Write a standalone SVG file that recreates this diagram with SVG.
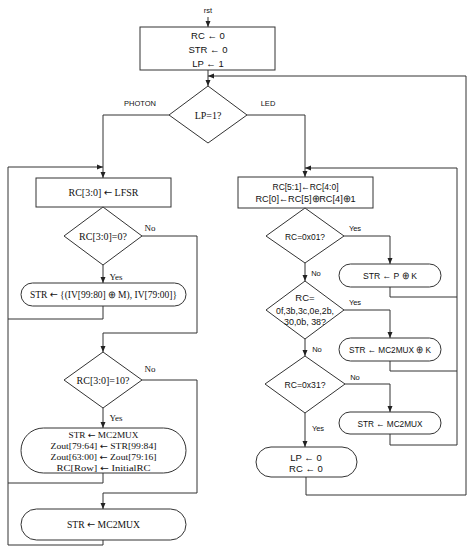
<svg xmlns="http://www.w3.org/2000/svg" width="471" height="550" viewBox="0 0 471 550">
<style>
.shape{fill:#fff;stroke:#333;stroke-width:1}
.wire{fill:none;stroke:#333;stroke-width:1}
.sans{font-family:"Liberation Sans",Arial,sans-serif;font-size:9.5px;fill:#111;text-anchor:middle}
.serif{font-family:"Liberation Serif","Times New Roman",serif;font-size:10px;fill:#111;text-anchor:middle}
.tight{font-size:9px}
.lbls{font-family:"Liberation Sans",Arial,sans-serif;font-size:7.5px;fill:#111;text-anchor:middle}
.lblr{font-family:"Liberation Serif","Times New Roman",serif;font-size:9px;fill:#111;text-anchor:middle}
.a{font-family:"DejaVu Sans",sans-serif}
</style>
<defs>
<marker id="arr" markerWidth="6" markerHeight="6" refX="6" refY="3" orient="auto" markerUnits="userSpaceOnUse">
<path d="M0,0.5 L6,3 L0,5.5 z" fill="#222"/>
</marker>
</defs>
<rect width="471" height="550" fill="#fff"/>

<g id="connectors" class="wire">
<path d="M208,17 V27" marker-end="url(#arr)"/>
<path d="M208,70 V86" marker-end="url(#arr)"/>
<path d="M169,115 H103 V178" marker-end="url(#arr)"/>
<path d="M247,115 H305 V177" marker-end="url(#arr)"/>
<path d="M306,477 V495 H466 V76 H208" marker-end="url(#arr)"/>
<path d="M142,236 H197 V333 H103 V352" marker-end="url(#arr)"/>
<path d="M103,265 V283" marker-end="url(#arr)"/>
<path d="M103,306 V319 H8"/>
<path d="M103,473 V483 H8"/>
<path d="M103,540 V545 H8 V167 H103" marker-end="url(#arr)"/>
<path d="M142,380 H197 V493 H103 V509" marker-end="url(#arr)"/>
<path d="M103,408 V428" marker-end="url(#arr)"/>
<path d="M344,236 H390 V264" marker-end="url(#arr)"/>
<path d="M305,263 V281" marker-end="url(#arr)"/>
<path d="M390,287 V297 H457"/>
<path d="M344,310 H390 V338" marker-end="url(#arr)"/>
<path d="M305,339 V356" marker-end="url(#arr)"/>
<path d="M390,361 V371 H457"/>
<path d="M345,384 H390 V412" marker-end="url(#arr)"/>
<path d="M390,434 V445 H457 V168 H305" marker-end="url(#arr)"/>
<path d="M305,413 V447" marker-end="url(#arr)"/>
</g>

<g id="labels">
<text class="lbls" x="208" y="13">rst</text>
<text class="lbls" x="140" y="106">PHOTON</text>
<text class="lbls" x="268" y="106">LED</text>
<text class="lblr" x="150" y="231">No</text>
<text class="lblr" x="116" y="280">Yes</text>
<text class="lblr" x="150" y="372">No</text>
<text class="lblr" x="116" y="421">Yes</text>
<text class="lbls" x="355" y="231">Yes</text>
<text class="lbls" x="316" y="276">No</text>
<text class="lbls" x="355" y="305">Yes</text>
<text class="lbls" x="317" y="352">No</text>
<text class="lbls" x="355" y="380">No</text>
<text class="lbls" x="318" y="431">Yes</text>
</g>

<g id="init">
<rect class="shape" x="140" y="27" width="135" height="43"/>
<text class="sans" x="208" y="38.5">RC ← 0</text>
<text class="sans" x="208" y="52.5">STR ← 0</text>
<text class="sans" x="208" y="66.5">LP ← 1</text>
</g>

<g id="lp-decision">
<polygon class="shape" points="208,86 247,115 208,143 169,115"/>
<text class="serif" x="208" y="119" font-size="11">LP=1?</text>
</g>

<g id="lfsr">
<rect class="shape" x="36" y="178" width="135" height="29"/>
<text class="serif" x="103.5" y="196" textLength="70" lengthAdjust="spacingAndGlyphs">RC[3:0] <tspan class="a">←</tspan> LFSR</text>
</g>

<g id="rc-zero">
<polygon class="shape" points="103,207 142,236 103,265 64,236"/>
<text class="serif" x="103" y="240">RC[3:0]=0?</text>
</g>

<g id="str-iv">
<rect class="shape" x="21" y="283" width="165" height="23" rx="11.5"/>
<text class="serif" x="103.5" y="298" textLength="147" lengthAdjust="spacingAndGlyphs">STR <tspan class="a">←</tspan> {(IV[99:80] ⊕ M), IV[79:00]}</text>
</g>

<g id="rc-ten">
<polygon class="shape" points="103,352 142,380 103,408 64,380"/>
<text class="serif" x="103" y="384">RC[3:0]=10?</text>
</g>

<g id="str-zout">
<rect class="shape" x="21" y="428" width="165" height="45" rx="22.5"/>
<text class="serif tight" x="103.5" y="438" textLength="70" lengthAdjust="spacingAndGlyphs">STR <tspan class="a">←</tspan> MC2MUX</text>
<text class="serif tight" x="103.5" y="449" textLength="106" lengthAdjust="spacingAndGlyphs">Zout[79:64] <tspan class="a">←</tspan> STR[99:84]</text>
<text class="serif tight" x="103.5" y="460" textLength="106" lengthAdjust="spacingAndGlyphs">Zout[63:00] <tspan class="a">←</tspan> Zout[79:16]</text>
<text class="serif tight" x="103.5" y="471" textLength="94" lengthAdjust="spacingAndGlyphs">RC[Row] <tspan class="a">←</tspan> InitialRC</text>
</g>

<g id="str-mux-left">
<rect class="shape" x="21" y="509" width="165" height="31" rx="15.5"/>
<text class="serif" x="103.5" y="528" textLength="73" lengthAdjust="spacingAndGlyphs">STR <tspan class="a">←</tspan> MC2MUX</text>
</g>

<g id="rc-shift">
<rect class="shape" x="238" y="177" width="135" height="31"/>
<text class="sans" x="305.5" y="189.5" textLength="66" lengthAdjust="spacingAndGlyphs">RC[5:1]←RC[4:0]</text>
<text class="sans" x="305.5" y="202" textLength="100" lengthAdjust="spacingAndGlyphs">RC[0]←RC[5]⊕RC[4]⊕1</text>
</g>

<g id="rc-01">
<polygon class="shape" points="305,208 344,236 305,263 266,236"/>
<text class="sans" x="305" y="239.5" textLength="40" lengthAdjust="spacingAndGlyphs">RC=0x01?</text>
</g>

<g id="str-pk">
<rect class="shape" x="339" y="264" width="102" height="23" rx="11.5"/>
<text class="sans" x="390" y="279" textLength="54" lengthAdjust="spacingAndGlyphs">STR ← P ⊕ K</text>
</g>

<g id="rc-list">
<polygon class="shape" points="305,281 344,310 305,339 266,310"/>
<text class="sans" x="305" y="301">RC=</text>
<text class="sans" x="305" y="313.5" textLength="58" lengthAdjust="spacingAndGlyphs">0f,3b,3c,0e,2b,</text>
<text class="sans" x="305" y="325" textLength="42" lengthAdjust="spacingAndGlyphs">30,0b, 38?</text>
</g>

<g id="str-muxk">
<rect class="shape" x="339" y="338" width="102" height="23" rx="11.5"/>
<text class="sans" x="390" y="353" textLength="82" lengthAdjust="spacingAndGlyphs">STR ← MC2MUX ⊕ K</text>
</g>

<g id="rc-31">
<polygon class="shape" points="305,356 345,384 305,413 265,384"/>
<text class="sans" x="305" y="388" textLength="41" lengthAdjust="spacingAndGlyphs">RC=0x31?</text>
</g>

<g id="str-mux-right">
<rect class="shape" x="339" y="412" width="102" height="22" rx="11"/>
<text class="sans" x="390" y="426.5" textLength="65" lengthAdjust="spacingAndGlyphs">STR ← MC2MUX</text>
</g>

<g id="lp-reset">
<rect class="shape" x="256" y="447" width="101" height="30" rx="15"/>
<text class="sans" x="306" y="460.5">LP ← 0</text>
<text class="sans" x="306" y="472">RC ← 0</text>
</g>
</svg>
